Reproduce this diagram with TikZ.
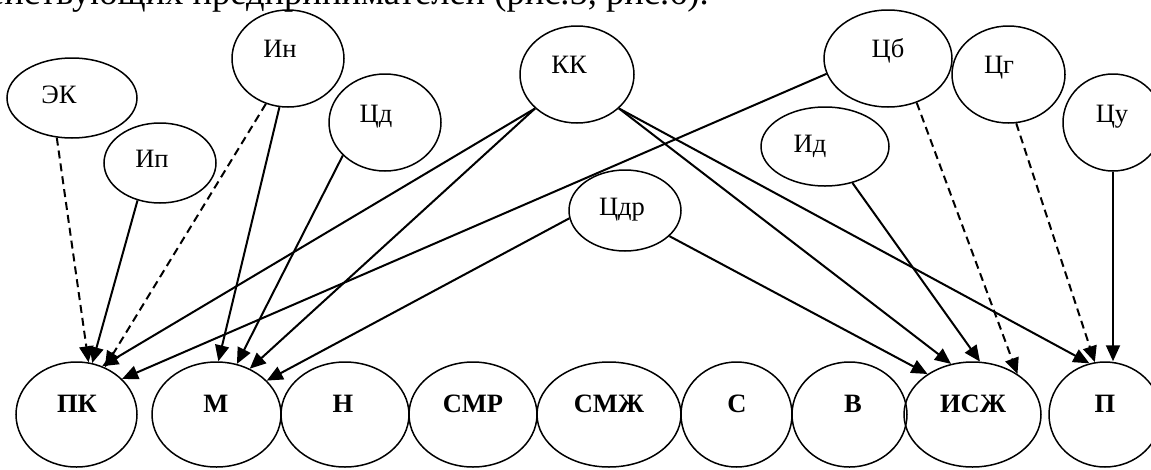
\documentclass[tikz,border=0pt]{standalone}
\usepackage{fontspec}
\setmainfont{Liberation Serif}
\usetikzlibrary{shapes.geometric,arrows.meta}
\tikzset{
  ell/.style={ellipse, draw, line width=1.5pt, inner sep=0pt},
  lab/.style={anchor=base, inner sep=0pt, font=\fontsize{26.5}{30}\selectfont},
  blab/.style={anchor=base, inner sep=0pt, font=\fontsize{26.5}{30}\selectfont\bfseries},
  con/.style={line width=2pt, -{Triangle[length=16pt,width=14pt]}},
  dcon/.style={con, dash pattern=on 8pt off 5pt},
}
\begin{document}
\begin{tikzpicture}[x=1pt,y=-1pt]
\useasboundingbox (0,0) rectangle (1151,469);
\clip (0,0) rectangle (1151,469);
% header text (cut)
\node[anchor=base east, inner sep=0pt, font=\fontsize{36.5}{40}\selectfont] (hdr) at (709,4.5) {действующих предпринимателей (рис.5, рис.6).};
% top ellipses
\node[ell, minimum width=130pt, minimum height=80pt] (ek) at (72,98) {};
\node[ell, minimum width=112pt, minimum height=80pt] (ip) at (160,163) {};
\node[ell, minimum width=112pt, minimum height=97pt] (in) at (288,58.5) {};
\node[ell, minimum width=112pt, minimum height=97pt] (cd) at (385,122.5) {};
\node[ell, minimum width=114pt, minimum height=97pt] (kk) at (577,74.5) {};
\node[ell, minimum width=112pt, minimum height=81pt] (cdr) at (625,210.5) {};
\node[ell, minimum width=128pt, minimum height=97pt] (cb) at (888,58.5) {};
\node[ell, minimum width=113pt, minimum height=97pt] (cg) at (1008.5,74.5) {};
\node[ell, minimum width=100pt, minimum height=97pt] (cu) at (1113,122.5) {};
\node[ell, minimum width=128pt, minimum height=79pt] (id) at (825,146.5) {};
\node[lab] (ekT) at (59,103) {ЭК};
\node[lab] (ipT) at (152,167) {Ип};
\node[lab] (inT) at (280,57) {Ин};
\node[lab] (cdT) at (376,122) {Цд};
\node[lab] (kkT) at (569,73) {КК};
\node[lab] (cdrT) at (622,215) {Цдр};
\node[lab] (cbT) at (888,57) {Цб};
\node[lab] (cgT) at (999,73) {Цг};
\node[lab] (cuT) at (1112,122) {Цу};
\node[lab] (idT) at (810,152) {Ид};
% bottom ellipses
\node[ell, minimum width=121pt, minimum height=105pt] (pk) at (76.5,414.5) {};
\node[ell, minimum width=129pt, minimum height=105pt] (m) at (216.5,414.5) {};
\node[ell, minimum width=128pt, minimum height=105pt] (n) at (345,414.5) {};
\node[ell, minimum width=128pt, minimum height=105pt] (smr) at (473,414.5) {};
\node[ell, minimum width=144pt, minimum height=105pt] (smzh) at (609,414.5) {};
\node[ell, minimum width=111pt, minimum height=105pt] (s) at (736.5,414.5) {};
\node[ell, minimum width=115pt, minimum height=105pt] (v) at (849.5,414.5) {};
\node[ell, minimum width=137pt, minimum height=105pt] (iszh) at (972.5,414.5) {};
\node[ell, minimum width=112pt, minimum height=105pt] (p) at (1105,414.5) {};
\node[blab] (pkT) at (77,412) {ПК};
\node[blab] (mT) at (216,412) {М};
\node[blab] (nT) at (343,412) {Н};
\node[blab] (smrT) at (473,412) {СМР};
\node[blab] (smzhT) at (609,412) {СМЖ};
\node[blab] (sT) at (737,412) {С};
\node[blab] (vT) at (853,412) {В};
\node[blab] (iszhT) at (973,412) {ИСЖ};
\node[blab] (pT) at (1105,412) {П};
% connectors to ПК
\draw[dcon] (ek.249.4) -- (pk.77.9);
\draw[con] (ip.239.5) -- (pk.73.8);
\draw[dcon] (in.244.9) -- (pk.59);
\draw[con] (kk.219.5) -- (pk.62.4);
\draw[con] (cb.194.9) -- (pk.38);
% connectors to М
\draw[con] (in.260.7) -- (m.88.4);
\draw[con] (cd.218.8) -- (m.68.1);
\draw[con] (kk.219.5) -- (m.54.3);
\draw[con] (cdr.188.1) -- (m.34);
% connectors to ИСЖ
\draw[con] (cdr.330.3) -- (iszh.138.6);
\draw[con] (kk.321.3) -- (iszh.113.7);
\draw[con] (id.307.8) -- (iszh.82);
\draw[dcon] (cb.303.7) -- (iszh.42.2);
% connectors to П
\draw[con] (kk.321.3) -- (p.107);
\draw[dcon] (cg.279.3) -- (p.101.6);
\draw[con] (cu.south) -- (cu.south |- p.north);
\end{tikzpicture}
\end{document}
